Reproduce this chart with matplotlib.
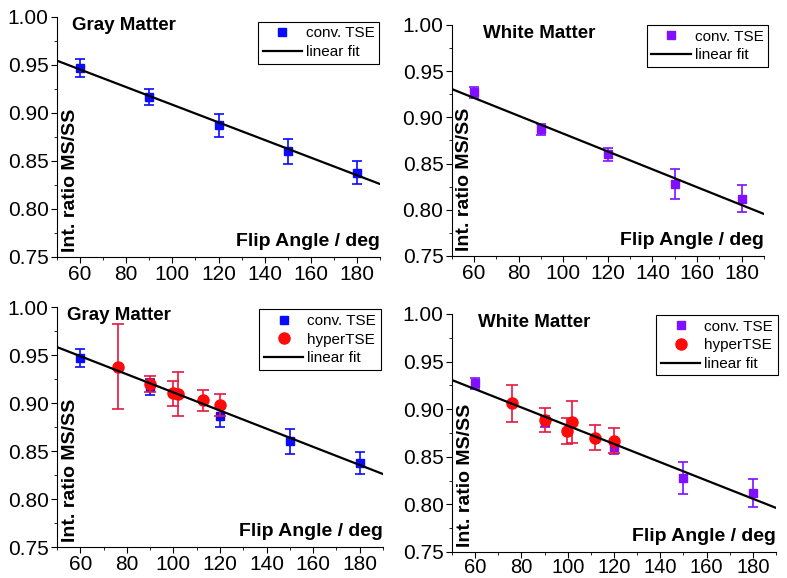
import numpy as np
import matplotlib.pyplot as plt
from matplotlib.ticker import MultipleLocator
from matplotlib.lines import Line2D

plt.rcParams['font.family'] = ['Liberation Sans', 'DejaVu Sans']

# conv. TSE, gray matter
gm_x = [60, 90, 120, 150, 180]
gm_y = [0.947, 0.917, 0.887, 0.860, 0.838]
gm_err = [0.009, 0.0085, 0.012, 0.013, 0.0115]

# conv. TSE, white matter
wm_x = [60, 90, 120, 150, 180]
wm_y = [0.927, 0.887, 0.860, 0.828, 0.812]
wm_err = [0.0055, 0.006, 0.0067, 0.0166, 0.0146]

# hyperTSE
hgm_x = [76, 90, 100, 102, 112.5, 120]
hgm_y = [0.938, 0.920, 0.910, 0.909, 0.903, 0.898]
hgm_err = [0.044, 0.008, 0.0127, 0.023, 0.011, 0.0117]

hwm_x = [76, 90, 99.5, 102, 112, 120]
hwm_y = [0.906, 0.889, 0.877, 0.887, 0.870, 0.867]
hwm_err = [0.019, 0.0125, 0.014, 0.022, 0.013, 0.0135]

# linear fits (value at 50 deg, slope per deg)
fit_tl = (0.9545, -0.000918)
fit_tr = (0.9307, -0.000966)
fit_bl = (0.9583, -0.000945)
fit_br = (0.9306, -0.000959)

blue = '#0a0aff'
purple = '#8010ff'
red = '#ff0a0a'
red_err = '#e8173d'

fig = plt.figure(figsize=(7.87, 5.78), dpi=100)
ax_tl = fig.add_axes([0.0724, 0.5554, 0.4105, 0.4152])
ax_tr = fig.add_axes([0.574, 0.5571, 0.3968, 0.3997])
ax_bl = fig.add_axes([0.0724, 0.0536, 0.4143, 0.4152])
ax_br = fig.add_axes([0.5743, 0.0450, 0.4117, 0.4118])

# axes, title, title x, data, colour, hyperTSE data, fit, legend anchor
panels = [
    (ax_tl, 'Gray Matter', 0.045, gm_x, gm_y, gm_err, blue, None, fit_tl, (0.622, 0.98)),
    (ax_tr, 'White Matter', 0.10, wm_x, wm_y, wm_err, purple, None, fit_tr, (0.625, 1.0)),
    (ax_bl, 'Gray Matter', 0.03, gm_x, gm_y, gm_err, blue, (hgm_x, hgm_y, hgm_err), fit_bl, (0.62, 0.99)),
    (ax_br, 'White Matter', 0.08, wm_x, wm_y, wm_err, purple, (hwm_x, hwm_y, hwm_err), fit_br, (0.63, 0.995)),
]

for ax, title, tx, x, y, err, col, hyper, fit, legpos in panels:
    ax.errorbar(x, y, yerr=err, fmt='s', color=col, ms=6, elinewidth=1.2,
                capsize=3.5, capthick=1.2, zorder=3)
    handles = [Line2D([], [], ls='none', marker='s', color=col, ms=6)]
    labels = ['conv. TSE']
    if hyper is not None:
        hx, hy, he = hyper
        ax.errorbar(hx, hy, yerr=he, fmt='o', color=red, ecolor=red_err, ms=8,
                    elinewidth=1.2, capsize=4, capthick=1.2, zorder=4)
        handles.append(Line2D([], [], ls='none', marker='o', color=red, ms=8))
        labels.append('hyperTSE')
    xf = np.array([50, 190])
    ax.plot(xf, fit[0] + fit[1] * (xf - 50), color='black', lw=1.6, zorder=5)
    handles.append(Line2D([], [], color='black', lw=1.6))
    labels.append('linear fit')

    ax.set_xlim(50, 190)
    ax.set_ylim(0.75, 1.00)
    ax.xaxis.set_major_locator(MultipleLocator(20))
    ax.xaxis.set_minor_locator(MultipleLocator(10))
    ax.yaxis.set_major_locator(MultipleLocator(0.05))
    ax.yaxis.set_minor_locator(MultipleLocator(0.025))
    ax.yaxis.set_major_formatter(plt.FormatStrFormatter('%.2f'))
    ax.spines['top'].set_visible(False)
    ax.spines['right'].set_visible(False)
    ax.tick_params(which='major', direction='out', length=4, labelsize=15, pad=2)
    ax.tick_params(which='minor', direction='out', length=2.5)

    ax.text(tx, 1.0, title, transform=ax.transAxes, fontsize=13.5,
            fontweight='bold', va='top', ha='left')
    ax.text(1.0, 0.03, 'Flip Angle / deg', transform=ax.transAxes, fontsize=14,
            fontweight='bold', va='bottom', ha='right')
    ax.text(0.015, 0.02, 'Int. ratio MS/SS', transform=ax.transAxes, fontsize=14,
            fontweight='bold', rotation=90, va='bottom', ha='left')

    leg = ax.legend(handles, labels, loc='upper left', bbox_to_anchor=legpos,
                    fontsize=11, frameon=True, fancybox=False, edgecolor='black',
                    handlelength=2.6, handletextpad=0.25, borderpad=0.3,
                    labelspacing=0.3, borderaxespad=0.0, framealpha=1)
    leg.get_frame().set_linewidth(0.8)

# bottom-right panel sits low in the figure, keep its tick labels inside
ax_br.tick_params(axis='x', which='major', labelsize=14.5, pad=0.5)

fig.savefig('out.png', dpi=100)
